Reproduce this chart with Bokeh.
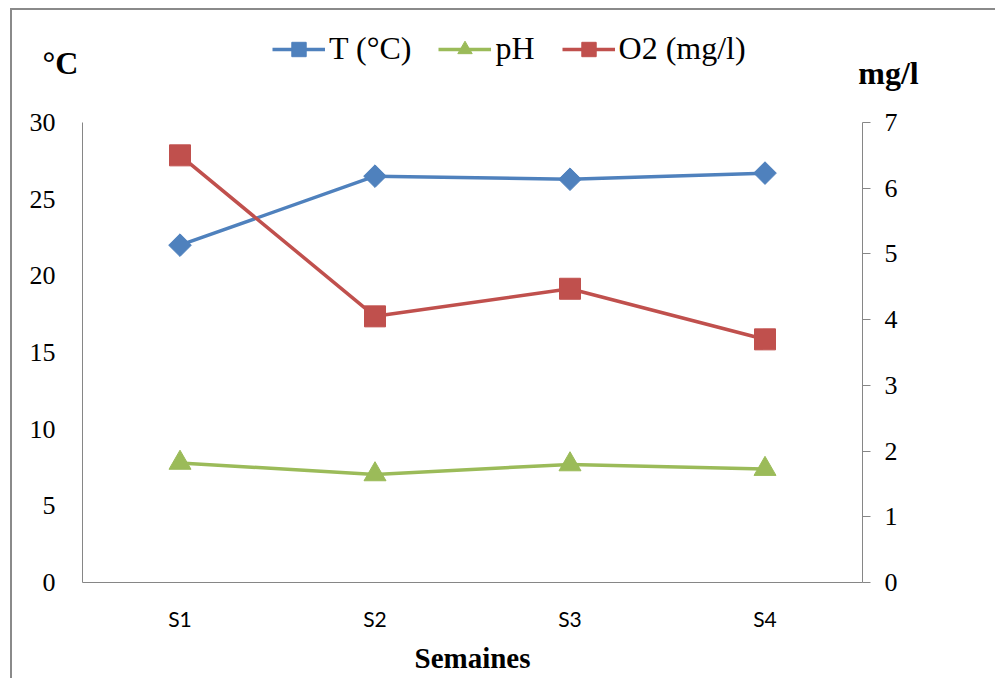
import math
from bokeh.plotting import figure
from bokeh.models import (Range1d, LinearAxis, FactorRange, Legend, LegendItem,
                          FixedTicker)
from bokeh.core.properties import value
from bokeh.embed import file_html
from bokeh.resources import INLINE

# ---- data ----
weeks = ["S1", "S2", "S3", "S4"]
temp = [22.0, 26.5, 26.3, 26.7]
ph = [7.8, 7.05, 7.7, 7.4]
o2 = [6.5, 4.05, 4.47, 3.7]
left_ticks = [0, 5, 10, 15, 20, 25, 30]
right_ticks = [0, 1, 2, 3, 4, 5, 6, 7]
series_names = ["T (°C)", "pH", "O2 (mg/l)"]
left_unit = "°C"
right_unit = "mg/l"

BLUE = "#4F81BD"
GREEN = "#9BBB59"
RED = "#C0504D"
GRAY = "#868686"
SERIF = "Liberation Serif"
BORDER = "2px solid #8a8a8a"

W = 985
TOP_H = 90
MAIN_H = 670 - TOP_H

# ---------- top strip: unit labels + legend ----------
top = figure(width=W, height=TOP_H, x_range=Range1d(0, W), y_range=Range1d(0, TOP_H),
             x_axis_type=None, y_axis_type=None, output_backend="svg",
             toolbar_location=None, min_border=0, min_border_left=0,
             min_border_right=0, min_border_top=0, min_border_bottom=0)
top.styles = {"margin-left": "10px", "margin-top": "8px",
              "border-left": BORDER, "border-top": BORDER}
top.outline_line_color = None
top.xgrid.visible = False
top.ygrid.visible = False
top.text(x=[48], y=[TOP_H - 52], text=[left_unit], text_font=value(SERIF),
         text_font_style="bold", text_font_size="32px", text_align="center",
         text_baseline="middle", text_color="#000000")
top.text(x=[876], y=[TOP_H - 62], text=[right_unit], text_font=value(SERIF),
         text_font_style="bold", text_font_size="32px", text_align="center",
         text_baseline="middle", text_color="#000000")

# legend-only renderers (their point lies outside the visible strip)
off = [-1000]
dl_t = top.line(off, off, color=BLUE, line_width=3.5)
ds_t = top.scatter(off, off, marker="square", angle=math.pi / 4, color=BLUE)
dl_p = top.line(off, off, color=GREEN, line_width=3.5)
ds_p = top.scatter(off, off, marker="triangle", color=GREEN)
dl_o = top.line(off, off, color=RED, line_width=3.5)
ds_o = top.scatter(off, off, marker="square", color=RED)

legend = Legend(items=[LegendItem(label=series_names[0], renderers=[dl_t, ds_t]),
                       LegendItem(label=series_names[1], renderers=[dl_p, ds_p]),
                       LegendItem(label=series_names[2], renderers=[dl_o, ds_o])],
                orientation="horizontal", location=(260, TOP_H - 57),
                glyph_width=53, glyph_height=36, label_standoff=4, spacing=27,
                padding=0, margin=0, border_line_color=None,
                background_fill_alpha=0, label_text_font=SERIF,
                label_text_font_size="32px", label_text_color="#000000",
                label_height=34)
top.add_layout(legend, "center")

# ---------- main chart ----------
p = figure(x_range=FactorRange(*weeks), y_range=Range1d(0, 30),
           width=W, height=MAIN_H, output_backend="svg", toolbar_location=None,
           min_border_left=70, min_border_right=135, min_border_top=24,
           min_border_bottom=96)
p.styles = {"margin-left": "10px", "border-left": BORDER}
p.extra_y_ranges = {"o2": Range1d(0, 7)}
p.outline_line_color = None
p.xgrid.visible = False
p.ygrid.visible = False

ya = p.yaxis[0]
ya.ticker = FixedTicker(ticks=left_ticks)
ya.major_tick_in = 0
ya.major_tick_out = 0
ya.minor_tick_line_color = None
ya.axis_line_color = GRAY
ya.major_label_text_font = SERIF
ya.major_label_text_font_size = "26px"
ya.major_label_text_color = "#000000"
ya.major_label_standoff = 27

ra = LinearAxis(y_range_name="o2", ticker=FixedTicker(ticks=right_ticks))
ra.major_tick_in = 0
ra.major_tick_out = 8
ra.major_tick_line_color = GRAY
ra.minor_tick_line_color = None
ra.axis_line_color = GRAY
ra.major_label_text_font = SERIF
ra.major_label_text_font_size = "26px"
ra.major_label_text_color = "#000000"
ra.major_label_standoff = 14
p.add_layout(ra, "right")

xa = p.xaxis[0]
xa.major_tick_in = 0
xa.major_tick_out = 0
xa.axis_line_color = GRAY
xa.major_label_text_font = "Lato"
xa.major_label_text_font_size = "21px"
xa.major_label_text_color = "#000000"
xa.major_label_standoff = 23
xa.axis_label = "Semaines"
xa.axis_label_text_font = SERIF
xa.axis_label_text_font_style = "bold"
xa.axis_label_text_font_size = "29px"
xa.axis_label_text_color = "#000000"
xa.axis_label_standoff = 8

p.line(weeks, temp, color=BLUE, line_width=3.5)
p.scatter(weeks, temp, marker="square", angle=math.pi / 4, size=16, color=BLUE)
p.line(weeks, ph, color=GREEN, line_width=3.5)
p.scatter(weeks, ph, marker="triangle", size=22, color=GREEN)
p.line(weeks, o2, color=RED, line_width=3.5, y_range_name="o2")
p.scatter(weeks, o2, marker="square", size=21, color=RED, y_range_name="o2")

open("out.html", "w").write(file_html([top, p], INLINE))
